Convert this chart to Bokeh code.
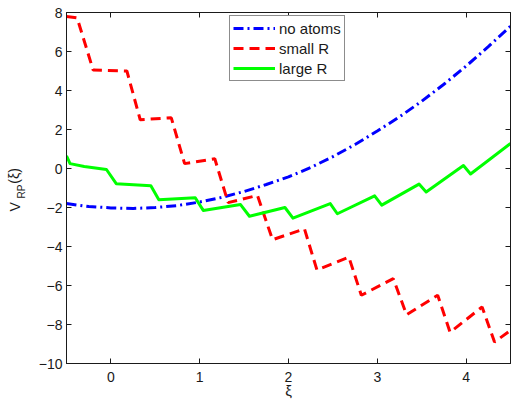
import math
from bokeh.plotting import figure
from bokeh.layouts import row
from bokeh.models import (LinearAxis, FixedTicker, Label, Legend, LegendItem, Range1d)
from bokeh.embed import file_html
from bokeh.resources import INLINE

# ---- data ----
blue_x = [-0.5, -0.25, 0, 0.25, 0.5, 0.75, 1, 1.25, 1.5, 1.75, 2, 2.25, 2.5, 2.75, 3, 3.25, 3.5, 3.75, 4, 4.25, 4.5]
blue_y = [-1.80, -1.95, -2.02, -2.05, -2.00, -1.90, -1.72, -1.48, -1.18, -0.82, -0.43, 0.05, 0.61, 1.23, 1.92, 2.65, 3.45, 4.32, 5.25, 6.25, 7.30]

red_x = [-0.5, -0.38, -0.2, 0.18, 0.33, 0.68, 0.83, 1.17, 1.32, 1.65, 1.82, 2.18, 2.32, 2.68, 2.82, 3.18, 3.33, 3.68, 3.82, 4.18, 4.32, 4.5]
red_y = [7.8, 7.72, 5.05, 5.0, 2.5, 2.6, 0.25, 0.5, -1.75, -1.38, -3.65, -3.1, -5.2, -4.55, -6.5, -5.65, -7.5, -6.5, -8.4, -7.1, -8.9, -8.3]

green_x = [-0.5, -0.46, -0.3, -0.05, 0.06, 0.45, 0.54, 0.95, 1.04, 1.46, 1.56, 1.96, 2.05, 2.47, 2.55, 2.97, 3.05, 3.47, 3.55, 3.97, 4.05, 4.5]
green_y = [0.65, 0.25, 0.1, -0.05, -0.78, -0.88, -1.6, -1.5, -2.15, -1.85, -2.45, -2.0, -2.55, -1.8, -2.32, -1.4, -1.88, -0.8, -1.2, 0.15, -0.28, 1.28]

series_labels = ["no atoms", "small R", "large R"]
x_ticks = [0, 1, 2, 3, 4]
y_ticks = [-10, -8, -6, -4, -2, 0, 2, 4, 6, 8]
x_title = "\u03be"

FONT = "Liberation Sans"
AX = "#1a1a1a"

# ---- narrow strip that carries the y-axis title ----
lab = figure(width=30, height=402, x_range=Range1d(0, 30), y_range=Range1d(0, 402),
             output_backend="svg", toolbar_location=None,
             x_axis_type=None, y_axis_type=None,
             min_border_left=0, min_border_right=0, min_border_top=0, min_border_bottom=0)
lab.grid.visible = False
lab.outline_line_color = None
lab.background_fill_color = "white"
lab.border_fill_color = "white"
for txt, x, y, size in [("V", 14, 174, "14px"), ("RP", 21, 189, "10px"), ("(\u03be)", 13, 206, "14px")]:
    lab.add_layout(Label(x=x, y=y, text=txt, angle=math.pi / 2, text_align="left",
                         text_baseline="alphabetic", text_font=FONT, text_font_size=size,
                         text_color=AX))

# ---- main plot ----
p = figure(width=481, height=402, x_range=Range1d(-0.5, 4.5), y_range=Range1d(-10, 8),
           output_backend="svg", toolbar_location=None,
           x_axis_type=None, y_axis_type=None,
           min_border_left=36, min_border_right=1, min_border_top=12, min_border_bottom=39)
p.grid.visible = False
p.outline_line_color = AX
p.background_fill_color = "white"
p.border_fill_color = "white"


def style_axis(ax, ticks, show_labels, standoff):
    ax.ticker = FixedTicker(ticks=ticks)
    ax.major_tick_in = 5
    ax.major_tick_out = 0
    ax.minor_tick_line_color = None
    ax.axis_line_color = AX
    ax.major_tick_line_color = AX
    ax.major_label_standoff = standoff
    if show_labels:
        ax.major_label_text_font = FONT
        ax.major_label_text_font_size = "14px"
        ax.major_label_text_color = AX
        ax.major_label_overrides = {t: (str(t).replace("-", "\u2212")) for t in ticks}
    else:
        ax.major_label_text_font_size = "0px"
        ax.major_label_overrides = {t: "" for t in ticks}


bottom = LinearAxis()
style_axis(bottom, x_ticks, True, 8)
bottom.axis_label = x_title
bottom.axis_label_text_font = FONT
bottom.axis_label_text_font_style = "normal"
bottom.axis_label_text_font_size = "15px"
bottom.axis_label_text_color = AX
bottom.axis_label_standoff = -3
p.add_layout(bottom, "below")
left = LinearAxis()
style_axis(left, y_ticks, True, 4)
p.add_layout(left, "left")
top = LinearAxis()
style_axis(top, x_ticks, False, 0)
p.add_layout(top, "above")
right = LinearAxis()
style_axis(right, y_ticks, False, 0)
p.add_layout(right, "right")

r_blue = p.line(blue_x, blue_y, line_color="#0000FF", line_width=3, line_dash="10 4 2 4")
r_red = p.line(red_x, red_y, line_color="#FF0000", line_width=3, line_dash="10 6")
r_green = p.line(green_x, green_y, line_color="#00FF00", line_width=3, line_join="round")

legend = Legend(items=[LegendItem(label=series_labels[0], renderers=[r_blue]),
                       LegendItem(label=series_labels[1], renderers=[r_red]),
                       LegendItem(label=series_labels[2], renderers=[r_green])],
                location=(163, 282), orientation="vertical",
                label_text_font=FONT, label_text_font_size="15px", label_text_color=AX,
                glyph_width=42, glyph_height=18, label_height=18, spacing=2,
                padding=3, margin=0, label_standoff=4,
                border_line_color=AX, border_line_width=1,
                background_fill_color="white", background_fill_alpha=1.0)
p.add_layout(legend, "center")

open("out.html", "w").write(file_html(row(lab, p), INLINE))
